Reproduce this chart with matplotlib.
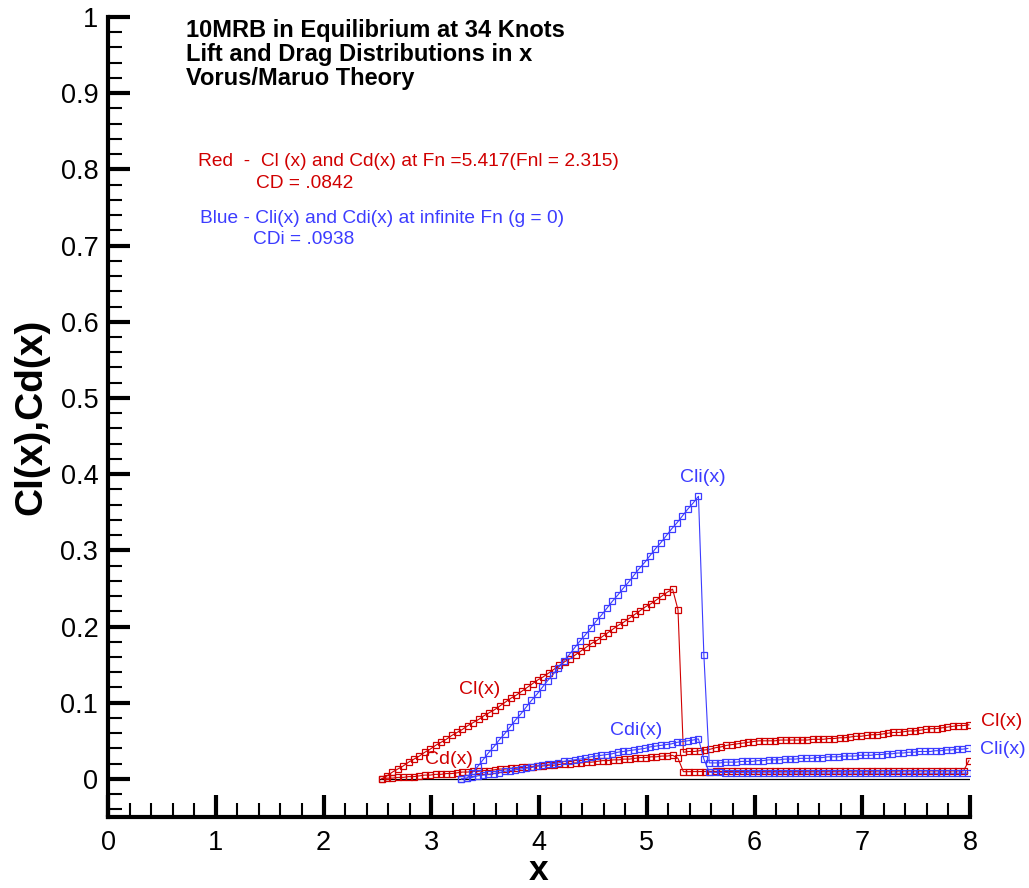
import matplotlib
matplotlib.use("Agg")
import matplotlib.pyplot as plt
from matplotlib.ticker import MultipleLocator, FixedLocator

plt.rcParams['font.family'] = ['Liberation Sans', 'DejaVu Sans']

# ---------------- data ----------------
red_x = [2.54, 2.59, 2.64, 2.69, 2.74, 2.79, 2.84, 2.89, 2.94, 2.99,
         3.04, 3.09, 3.14, 3.19, 3.24, 3.29, 3.34, 3.39, 3.44, 3.49,
         3.54, 3.59, 3.64, 3.69, 3.74, 3.79, 3.84, 3.89, 3.94, 3.99,
         4.04, 4.09, 4.14, 4.19, 4.24, 4.29, 4.34, 4.39, 4.44, 4.49,
         4.54, 4.59, 4.64, 4.69, 4.74, 4.79, 4.84, 4.89, 4.94, 4.99,
         5.04, 5.09, 5.14, 5.19, 5.24, 5.29, 5.34, 5.39, 5.44, 5.49,
         5.54, 5.59, 5.64, 5.69, 5.74, 5.79, 5.84, 5.89, 5.94, 5.99,
         6.04, 6.09, 6.14, 6.19, 6.24, 6.29, 6.34, 6.39, 6.44, 6.49,
         6.54, 6.59, 6.64, 6.69, 6.74, 6.79, 6.84, 6.89, 6.94, 6.99,
         7.04, 7.09, 7.14, 7.19, 7.24, 7.29, 7.34, 7.39, 7.44, 7.49,
         7.54, 7.59, 7.64, 7.69, 7.74, 7.79, 7.84, 7.89, 7.94, 7.99]

red_cl = [0.000, 0.004, 0.009, 0.013, 0.017, 0.022, 0.026, 0.030, 0.035, 0.039,
          0.044, 0.048, 0.052, 0.057, 0.061, 0.065, 0.070, 0.074, 0.078, 0.083,
          0.087, 0.091, 0.096, 0.101, 0.106, 0.110, 0.115, 0.120, 0.125, 0.130,
          0.134, 0.139, 0.144, 0.149, 0.154, 0.158, 0.163, 0.168, 0.173, 0.178,
          0.182, 0.187, 0.192, 0.197, 0.202, 0.206, 0.211, 0.216, 0.221, 0.226,
          0.230, 0.235, 0.240, 0.245, 0.249, 0.222, 0.035, 0.036, 0.036, 0.037,
          0.038, 0.039, 0.041, 0.042, 0.044, 0.045, 0.046, 0.047, 0.048, 0.049,
          0.050, 0.050, 0.050, 0.050, 0.051, 0.051, 0.051, 0.051, 0.051, 0.051,
          0.052, 0.052, 0.052, 0.053, 0.053, 0.054, 0.054, 0.055, 0.056, 0.056,
          0.057, 0.058, 0.058, 0.059, 0.060, 0.061, 0.061, 0.062, 0.063, 0.063,
          0.064, 0.065, 0.066, 0.066, 0.067, 0.068, 0.069, 0.070, 0.070, 0.071]

red_cd = [0.000, 0.001, 0.001, 0.002, 0.002, 0.003, 0.003, 0.004, 0.005, 0.005,
          0.006, 0.006, 0.007, 0.007, 0.008, 0.009, 0.009, 0.010, 0.010, 0.011,
          0.011, 0.012, 0.013, 0.013, 0.014, 0.014, 0.015, 0.015, 0.016, 0.017,
          0.017, 0.018, 0.018, 0.019, 0.020, 0.020, 0.021, 0.021, 0.022, 0.022,
          0.023, 0.024, 0.024, 0.025, 0.025, 0.026, 0.026, 0.027, 0.028, 0.028,
          0.029, 0.029, 0.030, 0.030, 0.031, 0.027, 0.0095, 0.0095, 0.0096, 0.0096,
          0.0097, 0.0097, 0.0098, 0.0098, 0.0098, 0.0099, 0.0099, 0.0099, 0.0100, 0.0100,
          0.0100, 0.0100, 0.0100, 0.0100, 0.0100, 0.0100, 0.0100, 0.0100, 0.0100, 0.0101,
          0.0101, 0.0101, 0.0101, 0.0101, 0.0101, 0.0101, 0.0102, 0.0102, 0.0102, 0.0102,
          0.0102, 0.0102, 0.0103, 0.0103, 0.0103, 0.0103, 0.0103, 0.0104, 0.0104, 0.0104,
          0.0104, 0.0104, 0.0105, 0.0105, 0.0105, 0.0105, 0.0105, 0.0105, 0.0106, 0.024]

blue_x = [3.28, 3.33, 3.38, 3.43, 3.48, 3.53, 3.58, 3.63, 3.68, 3.73,
          3.78, 3.83, 3.88, 3.93, 3.98, 4.03, 4.08, 4.13, 4.18, 4.23,
          4.28, 4.33, 4.38, 4.43, 4.48, 4.53, 4.58, 4.63, 4.68, 4.73,
          4.78, 4.83, 4.88, 4.93, 4.98, 5.03, 5.08, 5.13, 5.18, 5.23,
          5.28, 5.33, 5.38, 5.43, 5.48, 5.53, 5.58, 5.63, 5.68, 5.73,
          5.78, 5.83, 5.88, 5.93, 5.98, 6.03, 6.08, 6.13, 6.18, 6.23,
          6.28, 6.33, 6.38, 6.43, 6.48, 6.53, 6.58, 6.63, 6.68, 6.73,
          6.78, 6.83, 6.88, 6.93, 6.98, 7.03, 7.08, 7.13, 7.18, 7.23,
          7.28, 7.33, 7.38, 7.43, 7.48, 7.53, 7.58, 7.63, 7.68, 7.73,
          7.78, 7.83, 7.88, 7.93, 7.98]

blue_cli = [0.000, 0.001, 0.008, 0.016, 0.025, 0.034, 0.042, 0.051, 0.059, 0.068,
            0.077, 0.085, 0.094, 0.103, 0.111, 0.120, 0.129, 0.137, 0.146, 0.155,
            0.163, 0.172, 0.181, 0.189, 0.198, 0.207, 0.215, 0.224, 0.233, 0.241,
            0.250, 0.258, 0.267, 0.276, 0.284, 0.293, 0.302, 0.310, 0.319, 0.328,
            0.336, 0.345, 0.354, 0.362, 0.371, 0.163, 0.021, 0.021, 0.021, 0.022,
            0.022, 0.022, 0.023, 0.023, 0.023, 0.024, 0.024, 0.025, 0.025, 0.025,
            0.026, 0.026, 0.026, 0.027, 0.027, 0.027, 0.028, 0.028, 0.029, 0.029,
            0.029, 0.030, 0.030, 0.030, 0.031, 0.031, 0.031, 0.032, 0.032, 0.033,
            0.033, 0.034, 0.034, 0.035, 0.035, 0.036, 0.036, 0.036, 0.037, 0.037,
            0.038, 0.038, 0.039, 0.039, 0.040]

blue_cdi = [0.000, 0.001, 0.002, 0.004, 0.005, 0.006, 0.007, 0.008, 0.010, 0.011,
            0.012, 0.013, 0.014, 0.015, 0.017, 0.018, 0.019, 0.020, 0.021, 0.023,
            0.024, 0.025, 0.026, 0.027, 0.029, 0.030, 0.031, 0.032, 0.033, 0.035,
            0.036, 0.037, 0.038, 0.039, 0.040, 0.042, 0.043, 0.044, 0.045, 0.046,
            0.048, 0.049, 0.050, 0.051, 0.0525, 0.026, 0.0088, 0.0086, 0.0085, 0.0084,
            0.0083, 0.0082, 0.0082, 0.0081, 0.0081, 0.0080, 0.0080, 0.0080, 0.0079, 0.0079,
            0.0079, 0.0079, 0.0078, 0.0078, 0.0078, 0.0078, 0.0078, 0.0077, 0.0077, 0.0077,
            0.0077, 0.0077, 0.0077, 0.0076, 0.0076, 0.0076, 0.0076, 0.0076, 0.0076, 0.0076,
            0.0076, 0.0075, 0.0075, 0.0075, 0.0075, 0.0075, 0.0075, 0.0075, 0.0075, 0.0075,
            0.0075, 0.0075, 0.0075, 0.0075, 0.0076]

base_x = [2.52, 8.0]
base_y = [0.0, 0.0]

x_ticks = [0, 1, 2, 3, 4, 5, 6, 7, 8]
y_ticks = [0, 0.1, 0.2, 0.3, 0.4, 0.5, 0.6, 0.7, 0.8, 0.9, 1]
y_tick_labels = ['0', '0.1', '0.2', '0.3', '0.4', '0.5', '0.6', '0.7', '0.8', '0.9', '1']

title_lines = ["10MRB in Equilibrium at 34 Knots",
               "Lift and Drag Distributions in x",
               "Vorus/Maruo Theory"]
red_note = ["Red  -  Cl (x) and Cd(x) at Fn =5.417(Fnl = 2.315)", "CD = .0842"]
blue_note = ["Blue - Cli(x) and Cdi(x) at infinite Fn (g = 0)", "CDi = .0938"]

RED = '#D00000'
BLUE = '#3C3CFF'

# ---------------- figure ----------------
W, H = 1029, 888
fig = plt.figure(figsize=(W / 100, H / 100), dpi=100)
ax = fig.add_axes([108 / W, (H - 817) / H, (970 - 108) / W, (817 - 17) / H])

mk = dict(marker='s', markersize=3.8, markerfacecolor='none', markeredgewidth=0.9)
ax.plot(base_x, base_y, color='black', lw=0.9, zorder=1)
ax.plot(red_x, red_cl, color=RED, lw=0.8, markeredgecolor=RED, **mk)
ax.plot(red_x, red_cd, color=RED, lw=0.8, markeredgecolor=RED, **mk)
ax.plot(blue_x, blue_cli, color=BLUE, lw=0.8, markeredgecolor=BLUE, **mk)
ax.plot(blue_x, blue_cdi, color=BLUE, lw=0.8, markeredgecolor=BLUE, **mk)

ax.set_xlim(0, 8)
ax.set_ylim(-0.05, 1.0)
for s in ['top', 'right']:
    ax.spines[s].set_visible(False)
for s in ['left', 'bottom']:
    ax.spines[s].set_linewidth(3.0)
    ax.spines[s].set_capstyle('projecting')

ax.xaxis.set_major_locator(FixedLocator(x_ticks))
ax.xaxis.set_minor_locator(MultipleLocator(0.2))
ax.yaxis.set_major_locator(FixedLocator(y_ticks))
ax.yaxis.set_minor_locator(MultipleLocator(0.02))
ax.set_yticklabels(y_tick_labels)
ax.set_xticklabels([str(v) for v in x_ticks])
ax.tick_params(which='major', direction='in', length=16, width=3.0, labelsize=19.5, color='black')
ax.tick_params(which='minor', direction='in', length=10, width=1.5, color='black')
ax.tick_params(axis='x', which='major', pad=9)
ax.tick_params(axis='y', which='major', pad=7)

ax.set_xlabel('x', fontsize=25.5, fontweight='bold', va='baseline')
ax.xaxis.set_label_coords(0.5, (817 - 880) / 800)
ax.set_ylabel('Cl(x),Cd(x)', fontsize=28, fontweight='bold', va='center')
ax.yaxis.set_label_coords((31 - 108) / 862, 0.5)

# curve labels
lab = dict(fontsize=14, ha='center', va='center')
ax.text(5.52, 0.395, 'Cli(x)', color=BLUE, **lab)
ax.text(3.45, 0.117, 'Cl(x)', color=RED, **lab)
ax.text(3.16, 0.025, 'Cd(x)', color=RED, **lab)
ax.text(4.90, 0.064, 'Cdi(x)', color=BLUE, **lab)
ax.text(8.29, 0.075, 'Cl(x)', color=RED, clip_on=False, **lab)
ax.text(8.30, 0.038, 'Cli(x)', color=BLUE, clip_on=False, **lab)

# header text
def ftext(px, py, s, **kw):
    fig.text(px / W, 1 - py / H, s, ha='left', va='center', **kw)

for i, line in enumerate(title_lines):
    ftext(186, 30 + 24.5 * i, line, fontsize=17, fontweight='bold', color='black')
ftext(198, 162, red_note[0], fontsize=13.8, color=RED)
ftext(256, 184, red_note[1], fontsize=13.8, color=RED)
ftext(200, 218, blue_note[0], fontsize=13.8, color=BLUE)
ftext(253, 240, blue_note[1], fontsize=13.8, color=BLUE)

fig.savefig('out.png', dpi=100)
